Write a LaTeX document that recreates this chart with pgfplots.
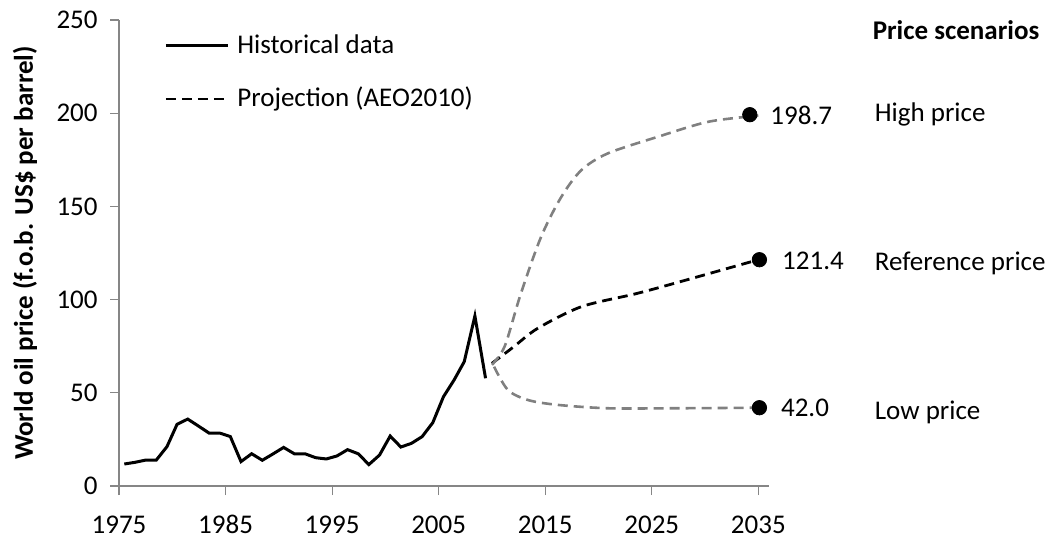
\documentclass[border=0pt]{standalone}
\usepackage{fontspec}
\setmainfont{Carlito}
\usepackage{pgfplots}
\pgfplotsset{compat=1.18}
\usetikzlibrary{calc}
\definecolor{axisgray}{RGB}{134,134,134}
\definecolor{projgray}{RGB}{128,128,128}
\begin{document}
\fontsize{13.5}{16}\selectfont
\begin{tikzpicture}
\begin{axis}[
  scale only axis, width=325pt, height=233pt,
  xmin=1975, xmax=2036, ymin=0, ymax=250,
  axis x line*=bottom, axis y line*=left,
  axis line style={axisgray, line width=0.6pt},
  xtick={1975,1985,...,2035}, ytick={0,50,...,250},
  tick align=outside, major tick length=4.5pt,
  tick style={axisgray, line width=0.6pt},
  /pgf/number format/assume math mode=true,
  /pgf/number format/1000 sep={},
  ticklabel style={font=\fontsize{13.5}{16}\selectfont, text=black},
  xticklabel style={anchor=base, yshift=-19pt},
  yticklabel style={xshift=-1.5pt},
  ylabel={\bfseries World oil price (f.o.b. US\$ per barrel)},
  ylabel style={at={(axis description cs:-0.1446,0.5)}, anchor=center, font=\fontsize{13.5}{16}\selectfont},
  clip=false,
  legend style={draw=none, fill=none, at={(axis description cs:0.06,1.0)}, anchor=north west,
    yshift=-3pt, row sep=11pt, font=\fontsize{13.5}{16}\selectfont,
    nodes={inner xsep=4pt}},
  legend cell align=left,
  legend image code/.code={\draw[#1] (0pt,0pt) -- (31pt,0pt);},
]
\addplot[black, line width=1.5pt] coordinates {
(1975.5,11.8) (1976.5,12.7) (1977.5,13.9) (1978.5,13.9) (1979.5,21.1)
(1980.45,33.1) (1981.45,35.9) (1982.45,32.2) (1983.45,28.4) (1984.45,28.4)
(1985.45,26.5) (1986.45,13.1) (1987.45,17.3) (1988.45,13.8) (1989.45,17.2)
(1990.45,20.7) (1991.45,17.3) (1992.45,17.3) (1993.45,15.2) (1994.45,14.5)
(1995.45,16.1) (1996.45,19.5) (1997.45,17.3) (1998.45,11.5) (1999.45,16.6)
(2000.45,26.8) (2001.45,20.9) (2002.45,22.9) (2003.45,26.5) (2004.45,34.0)
(2005.45,47.9) (2006.45,56.9) (2007.4,66.7) (2008.4,91.2) (2009.4,57.8)
};
\addlegendentry{Historical data}
\addplot[black, line width=1.4pt, dash pattern=on 5pt off 3pt, smooth, tension=0.5] coordinates {
(2010,65.8) (2012,74.5) (2014.3,84.6) (2018.4,96.2) (2023.4,103) (2027.1,108.7) (2035,121.4)
};
\addlegendentry{Projection (AEO2010)}
\addplot[projgray, line width=1.3pt, dash pattern=on 5pt off 3pt, smooth, tension=0.5, forget plot] coordinates {
(2010,65) (2011.2,75) (2012.7,103) (2014.6,133.5) (2016.5,155) (2018.4,169.5) (2020.9,178.5) (2025.6,187.4) (2030.3,195.4) (2035,198.7)
};
\addplot[projgray, line width=1.3pt, dash pattern=on 5pt off 3pt, smooth, tension=0.5, forget plot] coordinates {
(2010.2,64) (2011.5,51.5) (2013.4,46.1) (2016.2,43.5) (2020.9,41.7) (2027.1,41.7) (2035,42.0)
};
\addplot[only marks, mark=*, mark size=3.6pt, black, forget plot] coordinates {
(2034.2,199.2) (2035.1,121.4) (2035.1,42.0)
};
\node[anchor=west, inner sep=0pt] at (axis cs:2036.1,199) {198.7};
\node[anchor=west, inner sep=0pt] at (axis cs:2037.2,120.6) {121.4};
\node[anchor=west, inner sep=0pt] at (axis cs:2037.1,41.8) {42.0};
\node[anchor=west, inner sep=0pt] at (axis cs:2045.7,244.6) {\bfseries Price scenarios};
\node[anchor=west, inner sep=0pt] at (axis cs:2045.9,199.3) {High price};
\node[anchor=west, inner sep=0pt] at (axis cs:2045.9,119.6) {Reference price};
\node[anchor=west, inner sep=0pt] at (axis cs:2045.9,39.7) {Low price};
\end{axis}
\pgfresetboundingbox
\path[use as bounding box] ($(current axis.south west)+(-59.5pt,-28pt)$) rectangle ++(522.5pt,271pt);
\end{tikzpicture}
\end{document}
